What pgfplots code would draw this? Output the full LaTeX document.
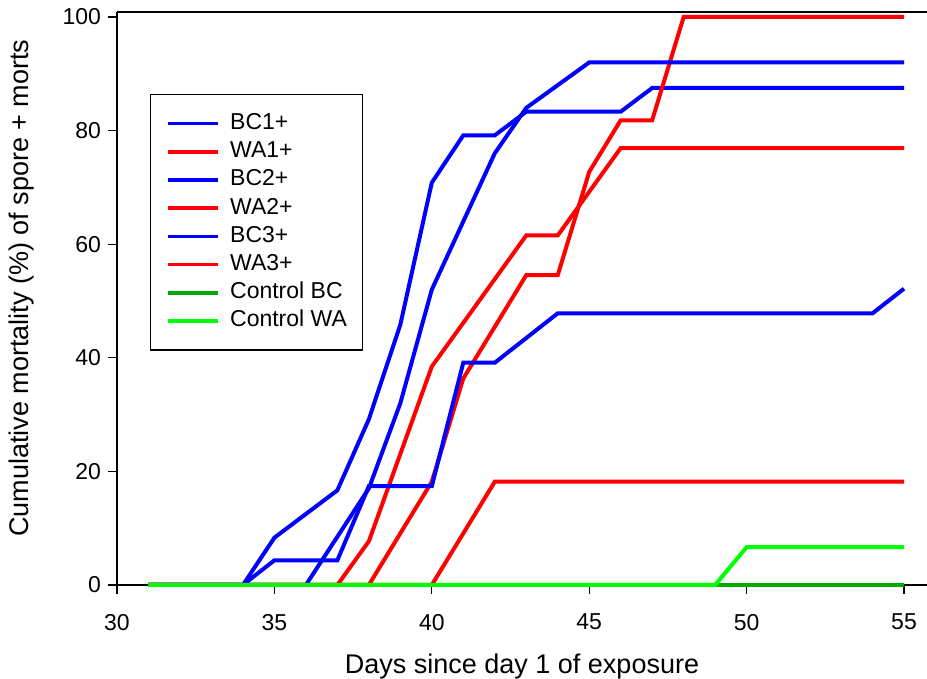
\documentclass[border=0pt]{standalone}
\usepackage{pgfplots}
\pgfplotsset{compat=1.18}
\usepackage{fontspec}
\setmainfont{Liberation Sans}
\definecolor{bcblue}{RGB}{0,0,255}
\definecolor{wared}{RGB}{255,0,0}
\definecolor{ctrlbc}{RGB}{0,170,0}
\definecolor{ctrlwa}{RGB}{0,255,0}
\begin{document}
\begin{tikzpicture}
\begin{axis}[
    name=ax,
    scale only axis,
    width=405pt, height=286.5pt,
    xmin=30, xmax=55.73,
    ymin=0, ymax=100.88,
    axis x line*=bottom,
    axis y line*=left,
    axis line style={line width=0.6pt},
    clip=false,
    tick align=outside,
    major tick length=4.5pt,
    tick style={line width=0.6pt, black},
    xtick={30,35,...,55},
    ytick={0,20,...,100},
    /pgf/number format/assume math mode=true,
    tick label style={font=\fontsize{11.5}{13}\selectfont},
    xticklabel style={yshift=-6.5pt},
    xlabel={Days since day 1 of exposure},
    ylabel={Cumulative mortality (\%) of spore + morts},
    label style={font=\fontsize{13.5}{16}\selectfont},
    xlabel style={at={(axis description cs:0.5,0)}, anchor=base, yshift=-44.5pt},
    ylabel style={at={(axis description cs:0,0.518)}, anchor=center, yshift=47.5pt},
    every axis plot/.append style={line width=2pt},
    legend image code/.code={\draw[#1,line width=1.8pt] (0pt,0pt) -- (25pt,0pt);},
    legend cell align=left,
    legend style={at={(0.0407,0.857)}, anchor=north west, draw=black,
        line width=0.6pt, fill=white,
        font=\fontsize{11.5}{13}\selectfont,
        inner xsep=8pt, inner ysep=9pt, row sep=3.1pt,
        nodes={inner sep=0pt, text height=8.5pt, text depth=2.5pt},
        /tikz/every odd column/.append style={column sep=5pt}},
]
% BC1+
\addplot[bcblue] coordinates {(31,0) (34,0) (35,8.33) (37,16.67) (38,29.17) (39,45.83)
    (40,70.83) (41,79.17) (42,79.17) (43,83.33) (46,83.33) (47,87.5) (55,87.5)};
% WA1+
\addplot[wared] coordinates {(31,0) (38,0) (40,18.18) (41,36.36) (42,45.45) (43,54.55)
    (44,54.55) (45,72.73) (46,81.82) (47,81.82) (48,100) (55,100)};
% BC2+
\addplot[bcblue] coordinates {(31,0) (36,0) (38,17) (39,32) (40,52) (41,64) (42,76)
    (43,84) (44,88) (45,92) (55,92)};
% WA2+
\addplot[wared] coordinates {(31,0) (37,0) (38,7.69) (40,38.46) (41,46.15) (42,53.85)
    (43,61.54) (44,61.54) (45,69.23) (46,76.92) (55,76.92)};
% BC3+
\addplot[bcblue] coordinates {(31,0) (34,0) (35,4.35) (37,4.35) (38,17.39) (40,17.39)
    (41,39.13) (42,39.13) (44,47.83) (54,47.83) (55,52.17)};
% WA3+
\addplot[wared] coordinates {(31,0) (40,0) (42,18.18) (55,18.18)};
% controls
\addplot[ctrlbc] coordinates {(31,0) (55,0)};
\addplot[ctrlwa] coordinates {(31,0) (49,0) (50,6.67) (55,6.67)};
\legend{BC1+, WA1+, BC2+, WA2+, BC3+, WA3+, Control BC, Control WA}
\draw[line width=0.6pt] (rel axis cs:0,1) -- (rel axis cs:1,1);
\end{axis}
\pgfresetboundingbox
\path ([shift={(-58.5pt,-47pt)}]ax.south west) rectangle ([shift={(0pt,6pt)}]ax.north east);
\end{tikzpicture}
\end{document}
